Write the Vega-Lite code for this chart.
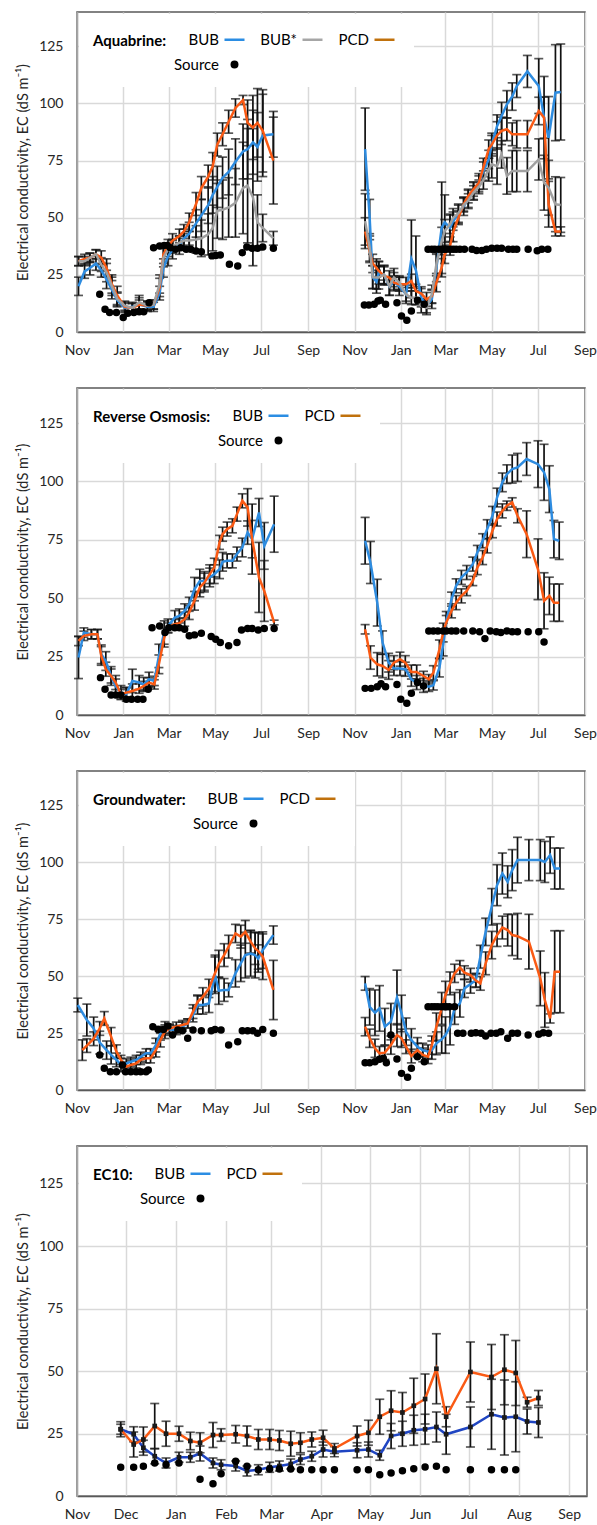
{
"$schema": "https://vega.github.io/schema/vega-lite/v6.json",
"padding": {"left": 14, "top": 11, "right": 5, "bottom": 0},
"spacing": 29,
"datasets": {
"A": [
{"g":1,"s":"BUB","d":"2015-11-03","v":20,"e":4},
{"g":1,"s":"BUB","d":"2015-11-11","v":26.5,"e":3},
{"g":1,"s":"BUB","d":"2015-11-18","v":28,"e":3},
{"g":1,"s":"BUB","d":"2015-11-26","v":30,"e":3},
{"g":1,"s":"BUB","d":"2015-12-03","v":27,"e":3},
{"g":1,"s":"BUB","d":"2015-12-10","v":23,"e":4},
{"g":1,"s":"BUB","d":"2015-12-17","v":18.5,"e":4},
{"g":1,"s":"BUB","d":"2015-12-24","v":14,"e":3},
{"g":1,"s":"BUB","d":"2016-01-03","v":10.5,"e":2},
{"g":1,"s":"BUB","d":"2016-01-13","v":11,"e":2},
{"g":1,"s":"BUB","d":"2016-01-22","v":12,"e":3},
{"g":1,"s":"BUB","d":"2016-02-02","v":11,"e":2},
{"g":1,"s":"BUB","d":"2016-02-10","v":11,"e":2},
{"g":1,"s":"BUB","d":"2016-02-18","v":17,"e":3},
{"g":1,"s":"BUB","d":"2016-02-23","v":28,"e":4},
{"g":1,"s":"BUB","d":"2016-02-29","v":33,"e":4},
{"g":1,"s":"BUB","d":"2016-03-06","v":36,"e":4},
{"g":1,"s":"BUB","d":"2016-03-15","v":38,"e":4},
{"g":1,"s":"BUB","d":"2016-03-21","v":41,"e":4},
{"g":1,"s":"BUB","d":"2016-03-28","v":43,"e":5},
{"g":1,"s":"BUB","d":"2016-04-06","v":47.5,"e":6},
{"g":1,"s":"BUB","d":"2016-04-13","v":51,"e":7},
{"g":1,"s":"BUB","d":"2016-04-22","v":55.5,"e":8},
{"g":1,"s":"BUB","d":"2016-04-28","v":60,"e":8},
{"g":1,"s":"BUB","d":"2016-05-04","v":63.5,"e":9},
{"g":1,"s":"BUB","d":"2016-05-11","v":67.5,"e":9},
{"g":1,"s":"BUB","d":"2016-05-19","v":70,"e":10},
{"g":1,"s":"BUB","d":"2016-05-28","v":74.5,"e":10},
{"g":1,"s":"BUB","d":"2016-06-07","v":79,"e":12},
{"g":1,"s":"BUB","d":"2016-06-13","v":80,"e":13},
{"g":1,"s":"BUB","d":"2016-06-20","v":83,"e":14},
{"g":1,"s":"BUB","d":"2016-06-26","v":81,"e":15},
{"g":1,"s":"BUB","d":"2016-07-03","v":86,"e":18},
{"g":1,"s":"BUB","d":"2016-07-17","v":86.5,"e":10},
{"g":1,"s":"PCD","d":"2015-11-03","v":31,"e":2},
{"g":1,"s":"PCD","d":"2015-11-11","v":32,"e":2},
{"g":1,"s":"PCD","d":"2015-11-18","v":32.5,"e":2},
{"g":1,"s":"PCD","d":"2015-11-26","v":34,"e":2},
{"g":1,"s":"PCD","d":"2015-12-03","v":32.5,"e":3},
{"g":1,"s":"PCD","d":"2015-12-10","v":28,"e":4},
{"g":1,"s":"PCD","d":"2015-12-17","v":21,"e":4},
{"g":1,"s":"PCD","d":"2015-12-24","v":16,"e":4},
{"g":1,"s":"PCD","d":"2016-01-03","v":11,"e":2},
{"g":1,"s":"PCD","d":"2016-01-13","v":10.5,"e":2},
{"g":1,"s":"PCD","d":"2016-01-22","v":12,"e":2},
{"g":1,"s":"PCD","d":"2016-02-02","v":11.5,"e":2},
{"g":1,"s":"PCD","d":"2016-02-10","v":12,"e":2},
{"g":1,"s":"PCD","d":"2016-02-18","v":19.5,"e":4},
{"g":1,"s":"PCD","d":"2016-02-23","v":34,"e":4},
{"g":1,"s":"PCD","d":"2016-02-29","v":37.5,"e":3},
{"g":1,"s":"PCD","d":"2016-03-06","v":40,"e":3},
{"g":1,"s":"PCD","d":"2016-03-15","v":42,"e":3},
{"g":1,"s":"PCD","d":"2016-03-21","v":44,"e":3},
{"g":1,"s":"PCD","d":"2016-03-28","v":48,"e":4},
{"g":1,"s":"PCD","d":"2016-04-06","v":56,"e":5},
{"g":1,"s":"PCD","d":"2016-04-13","v":63,"e":5},
{"g":1,"s":"PCD","d":"2016-04-22","v":68,"e":5},
{"g":1,"s":"PCD","d":"2016-04-28","v":72.5,"e":6},
{"g":1,"s":"PCD","d":"2016-05-04","v":82,"e":5},
{"g":1,"s":"PCD","d":"2016-05-11","v":86.5,"e":5},
{"g":1,"s":"PCD","d":"2016-05-19","v":92,"e":5},
{"g":1,"s":"PCD","d":"2016-05-28","v":98,"e":4},
{"g":1,"s":"PCD","d":"2016-06-07","v":101.5,"e":2},
{"g":1,"s":"PCD","d":"2016-06-13","v":91.5,"e":10},
{"g":1,"s":"PCD","d":"2016-06-20","v":89.5,"e":14},
{"g":1,"s":"PCD","d":"2016-06-26","v":91.5,"e":15},
{"g":1,"s":"PCD","d":"2016-07-03","v":88,"e":18},
{"g":1,"s":"PCD","d":"2016-07-17","v":75,"e":19},
{"g":1,"s":"BUB*","d":"2015-11-03","v":31,"e":2},
{"g":1,"s":"BUB*","d":"2015-11-11","v":31,"e":2},
{"g":1,"s":"BUB*","d":"2015-11-18","v":32.5,"e":2},
{"g":1,"s":"BUB*","d":"2015-11-26","v":34,"e":2},
{"g":1,"s":"BUB*","d":"2015-12-03","v":29.5,"e":3},
{"g":1,"s":"BUB*","d":"2015-12-10","v":26,"e":4},
{"g":1,"s":"BUB*","d":"2015-12-17","v":20,"e":4},
{"g":1,"s":"BUB*","d":"2015-12-24","v":14.5,"e":3},
{"g":1,"s":"BUB*","d":"2016-01-03","v":11.5,"e":2},
{"g":1,"s":"BUB*","d":"2016-01-13","v":10.5,"e":2},
{"g":1,"s":"BUB*","d":"2016-01-22","v":13,"e":3},
{"g":1,"s":"BUB*","d":"2016-02-02","v":11.5,"e":2},
{"g":1,"s":"BUB*","d":"2016-02-10","v":12,"e":2},
{"g":1,"s":"BUB*","d":"2016-02-18","v":21,"e":4},
{"g":1,"s":"BUB*","d":"2016-02-23","v":32.5,"e":4},
{"g":1,"s":"BUB*","d":"2016-02-29","v":36,"e":3},
{"g":1,"s":"BUB*","d":"2016-03-06","v":37.5,"e":3},
{"g":1,"s":"BUB*","d":"2016-03-15","v":39,"e":3},
{"g":1,"s":"BUB*","d":"2016-03-21","v":40,"e":3},
{"g":1,"s":"BUB*","d":"2016-03-28","v":40,"e":4},
{"g":1,"s":"BUB*","d":"2016-04-06","v":40.5,"e":6},
{"g":1,"s":"BUB*","d":"2016-04-13","v":41,"e":8},
{"g":1,"s":"BUB*","d":"2016-04-22","v":42.7,"e":9},
{"g":1,"s":"BUB*","d":"2016-04-28","v":45.5,"e":10},
{"g":1,"s":"BUB*","d":"2016-05-04","v":53,"e":12},
{"g":1,"s":"BUB*","d":"2016-05-11","v":53.5,"e":13},
{"g":1,"s":"BUB*","d":"2016-05-19","v":54.5,"e":13},
{"g":1,"s":"BUB*","d":"2016-05-28","v":56.5,"e":15},
{"g":1,"s":"BUB*","d":"2016-06-07","v":63,"e":20},
{"g":1,"s":"BUB*","d":"2016-06-13","v":64,"e":25},
{"g":1,"s":"BUB*","d":"2016-06-20","v":59,"e":30},
{"g":1,"s":"BUB*","d":"2016-06-26","v":48,"e":12},
{"g":1,"s":"BUB*","d":"2016-07-03","v":45.5,"e":6},
{"g":1,"s":"BUB*","d":"2016-07-17","v":41,"e":3},
{"g":2,"s":"BUB","d":"2016-11-15","v":80,"e":18},
{"g":2,"s":"BUB","d":"2016-11-21","v":50,"e":8},
{"g":2,"s":"BUB","d":"2016-11-25","v":24,"e":5},
{"g":2,"s":"BUB","d":"2016-11-30","v":22,"e":5},
{"g":2,"s":"BUB","d":"2016-12-03","v":26,"e":5},
{"g":2,"s":"BUB","d":"2016-12-10","v":25,"e":4},
{"g":2,"s":"BUB","d":"2016-12-17","v":20,"e":4},
{"g":2,"s":"BUB","d":"2016-12-23","v":22,"e":4},
{"g":2,"s":"BUB","d":"2016-12-30","v":20,"e":4},
{"g":2,"s":"BUB","d":"2017-01-08","v":16.5,"e":4},
{"g":2,"s":"BUB","d":"2017-01-15","v":32,"e":17},
{"g":2,"s":"BUB","d":"2017-01-21","v":27,"e":15},
{"g":2,"s":"BUB","d":"2017-01-28","v":15,"e":4},
{"g":2,"s":"BUB","d":"2017-02-04","v":11.4,"e":3},
{"g":2,"s":"BUB","d":"2017-02-11","v":14.3,"e":4},
{"g":2,"s":"BUB","d":"2017-02-17","v":28,"e":6},
{"g":2,"s":"BUB","d":"2017-02-24","v":45.6,"e":20},
{"g":2,"s":"BUB","d":"2017-02-28","v":48,"e":12},
{"g":2,"s":"BUB","d":"2017-03-07","v":45.6,"e":6},
{"g":2,"s":"BUB","d":"2017-03-11","v":48.5,"e":4},
{"g":2,"s":"BUB","d":"2017-03-18","v":51.5,"e":4},
{"g":2,"s":"BUB","d":"2017-03-25","v":55,"e":4},
{"g":2,"s":"BUB","d":"2017-03-31","v":58,"e":4},
{"g":2,"s":"BUB","d":"2017-04-07","v":61.7,"e":4},
{"g":2,"s":"BUB","d":"2017-04-14","v":65.3,"e":4},
{"g":2,"s":"BUB","d":"2017-04-20","v":70.4,"e":4},
{"g":2,"s":"BUB","d":"2017-04-27","v":75.5,"e":4},
{"g":2,"s":"BUB","d":"2017-05-01","v":82,"e":5},
{"g":2,"s":"BUB","d":"2017-05-08","v":90,"e":5},
{"g":2,"s":"BUB","d":"2017-05-14","v":94.5,"e":6},
{"g":2,"s":"BUB","d":"2017-05-21","v":99.6,"e":6},
{"g":2,"s":"BUB","d":"2017-05-28","v":103,"e":6},
{"g":2,"s":"BUB","d":"2017-06-03","v":107.6,"e":5},
{"g":2,"s":"BUB","d":"2017-06-17","v":114,"e":7},
{"g":2,"s":"BUB","d":"2017-07-02","v":107.6,"e":12},
{"g":2,"s":"BUB","d":"2017-07-09","v":93.8,"e":18},
{"g":2,"s":"BUB","d":"2017-07-15","v":85,"e":18},
{"g":2,"s":"BUB","d":"2017-07-24","v":104.7,"e":21},
{"g":2,"s":"BUB","d":"2017-07-31","v":105,"e":21},
{"g":2,"s":"PCD","d":"2016-11-15","v":44,"e":6},
{"g":2,"s":"PCD","d":"2016-11-21","v":35.4,"e":5},
{"g":2,"s":"PCD","d":"2016-11-25","v":30,"e":4},
{"g":2,"s":"PCD","d":"2016-11-30","v":28,"e":4},
{"g":2,"s":"PCD","d":"2016-12-03","v":26.7,"e":4},
{"g":2,"s":"PCD","d":"2016-12-10","v":24.5,"e":4},
{"g":2,"s":"PCD","d":"2016-12-17","v":23.8,"e":3},
{"g":2,"s":"PCD","d":"2016-12-23","v":21.6,"e":3},
{"g":2,"s":"PCD","d":"2016-12-30","v":20.9,"e":3},
{"g":2,"s":"PCD","d":"2017-01-08","v":20.9,"e":3},
{"g":2,"s":"PCD","d":"2017-01-15","v":22.3,"e":3},
{"g":2,"s":"PCD","d":"2017-01-21","v":17.9,"e":3},
{"g":2,"s":"PCD","d":"2017-01-28","v":16.8,"e":3},
{"g":2,"s":"PCD","d":"2017-02-04","v":14.3,"e":3},
{"g":2,"s":"PCD","d":"2017-02-11","v":15.7,"e":3},
{"g":2,"s":"PCD","d":"2017-02-17","v":21.6,"e":4},
{"g":2,"s":"PCD","d":"2017-02-24","v":28.1,"e":4},
{"g":2,"s":"PCD","d":"2017-02-28","v":34,"e":4},
{"g":2,"s":"PCD","d":"2017-03-07","v":37.6,"e":4},
{"g":2,"s":"PCD","d":"2017-03-11","v":43.5,"e":4},
{"g":2,"s":"PCD","d":"2017-03-18","v":50,"e":3},
{"g":2,"s":"PCD","d":"2017-03-25","v":55.9,"e":3},
{"g":2,"s":"PCD","d":"2017-03-31","v":59.5,"e":3},
{"g":2,"s":"PCD","d":"2017-04-07","v":62.4,"e":3},
{"g":2,"s":"PCD","d":"2017-04-14","v":65.3,"e":3},
{"g":2,"s":"PCD","d":"2017-04-20","v":72,"e":4},
{"g":2,"s":"PCD","d":"2017-04-27","v":80,"e":4},
{"g":2,"s":"PCD","d":"2017-05-01","v":82,"e":4},
{"g":2,"s":"PCD","d":"2017-05-08","v":86,"e":6},
{"g":2,"s":"PCD","d":"2017-05-14","v":88,"e":6},
{"g":2,"s":"PCD","d":"2017-05-21","v":88.7,"e":5},
{"g":2,"s":"PCD","d":"2017-05-28","v":86.5,"e":5},
{"g":2,"s":"PCD","d":"2017-06-03","v":86.5,"e":6},
{"g":2,"s":"PCD","d":"2017-06-17","v":86.5,"e":6},
{"g":2,"s":"PCD","d":"2017-07-02","v":96.7,"e":6},
{"g":2,"s":"PCD","d":"2017-07-09","v":93.8,"e":9},
{"g":2,"s":"PCD","d":"2017-07-15","v":55.9,"e":10},
{"g":2,"s":"PCD","d":"2017-07-24","v":44,"e":2},
{"g":2,"s":"PCD","d":"2017-07-31","v":44,"e":2},
{"g":2,"s":"BUB*","d":"2016-11-15","v":48.5,"e":12},
{"g":2,"s":"BUB*","d":"2016-11-21","v":37,"e":6},
{"g":2,"s":"BUB*","d":"2016-11-25","v":24,"e":5},
{"g":2,"s":"BUB*","d":"2016-11-30","v":23.8,"e":5},
{"g":2,"s":"BUB*","d":"2016-12-03","v":23.8,"e":5},
{"g":2,"s":"BUB*","d":"2016-12-10","v":25.2,"e":4},
{"g":2,"s":"BUB*","d":"2016-12-17","v":20.1,"e":4},
{"g":2,"s":"BUB*","d":"2016-12-23","v":23.8,"e":4},
{"g":2,"s":"BUB*","d":"2016-12-30","v":21.6,"e":3},
{"g":2,"s":"BUB*","d":"2017-01-08","v":16.5,"e":3},
{"g":2,"s":"BUB*","d":"2017-01-15","v":15,"e":3},
{"g":2,"s":"BUB*","d":"2017-01-21","v":15,"e":3},
{"g":2,"s":"BUB*","d":"2017-01-28","v":11.4,"e":3},
{"g":2,"s":"BUB*","d":"2017-02-04","v":10.6,"e":3},
{"g":2,"s":"BUB*","d":"2017-02-11","v":16.5,"e":4},
{"g":2,"s":"BUB*","d":"2017-02-17","v":29.6,"e":5},
{"g":2,"s":"BUB*","d":"2017-02-24","v":39.8,"e":6},
{"g":2,"s":"BUB*","d":"2017-02-28","v":44.2,"e":5},
{"g":2,"s":"BUB*","d":"2017-03-07","v":47.1,"e":4},
{"g":2,"s":"BUB*","d":"2017-03-11","v":50,"e":4},
{"g":2,"s":"BUB*","d":"2017-03-18","v":52,"e":4},
{"g":2,"s":"BUB*","d":"2017-03-25","v":55.5,"e":3},
{"g":2,"s":"BUB*","d":"2017-03-31","v":57.5,"e":3},
{"g":2,"s":"BUB*","d":"2017-04-07","v":61,"e":3},
{"g":2,"s":"BUB*","d":"2017-04-14","v":63.5,"e":3},
{"g":2,"s":"BUB*","d":"2017-04-20","v":66.5,"e":4},
{"g":2,"s":"BUB*","d":"2017-04-27","v":71,"e":5},
{"g":2,"s":"BUB*","d":"2017-05-01","v":73.4,"e":6},
{"g":2,"s":"BUB*","d":"2017-05-08","v":72.6,"e":8},
{"g":2,"s":"BUB*","d":"2017-05-14","v":77.7,"e":6},
{"g":2,"s":"BUB*","d":"2017-05-21","v":68.3,"e":8},
{"g":2,"s":"BUB*","d":"2017-05-28","v":70.4,"e":9},
{"g":2,"s":"BUB*","d":"2017-06-03","v":70.4,"e":9},
{"g":2,"s":"BUB*","d":"2017-06-17","v":70.4,"e":9},
{"g":2,"s":"BUB*","d":"2017-07-02","v":75.5,"e":9},
{"g":2,"s":"BUB*","d":"2017-07-09","v":65.3,"e":12},
{"g":2,"s":"BUB*","d":"2017-07-15","v":63.1,"e":12},
{"g":2,"s":"BUB*","d":"2017-07-24","v":55.9,"e":12},
{"g":2,"s":"BUB*","d":"2017-07-31","v":55.6,"e":12},
{"g":1,"s":"Source","d":"2015-12-01","v":16.5},
{"g":1,"s":"Source","d":"2015-12-08","v":10},
{"g":1,"s":"Source","d":"2015-12-14","v":8.5},
{"g":1,"s":"Source","d":"2015-12-23","v":8.5},
{"g":1,"s":"Source","d":"2016-01-01","v":6.3},
{"g":1,"s":"Source","d":"2016-01-07","v":8.2},
{"g":1,"s":"Source","d":"2016-01-15","v":8.5},
{"g":1,"s":"Source","d":"2016-01-22","v":8.9},
{"g":1,"s":"Source","d":"2016-01-28","v":8.9},
{"g":1,"s":"Source","d":"2016-02-04","v":12.8},
{"g":1,"s":"Source","d":"2016-02-10","v":36.9},
{"g":1,"s":"Source","d":"2016-02-18","v":37.6},
{"g":1,"s":"Source","d":"2016-02-24","v":37.9},
{"g":1,"s":"Source","d":"2016-02-28","v":37.9},
{"g":1,"s":"Source","d":"2016-03-03","v":36.9},
{"g":1,"s":"Source","d":"2016-03-10","v":36.2},
{"g":1,"s":"Source","d":"2016-03-17","v":36.9},
{"g":1,"s":"Source","d":"2016-03-24","v":36.2},
{"g":1,"s":"Source","d":"2016-03-30","v":36.2},
{"g":1,"s":"Source","d":"2016-04-06","v":35.4},
{"g":1,"s":"Source","d":"2016-04-13","v":35.1},
{"g":1,"s":"Source","d":"2016-04-27","v":33.3},
{"g":1,"s":"Source","d":"2016-05-02","v":33.5},
{"g":1,"s":"Source","d":"2016-05-08","v":33.7},
{"g":1,"s":"Source","d":"2016-05-20","v":29.6},
{"g":1,"s":"Source","d":"2016-05-31","v":28.9},
{"g":1,"s":"Source","d":"2016-06-06","v":34.7},
{"g":1,"s":"Source","d":"2016-06-12","v":37.2},
{"g":1,"s":"Source","d":"2016-06-19","v":36.6},
{"g":1,"s":"Source","d":"2016-06-26","v":36.6},
{"g":1,"s":"Source","d":"2016-07-03","v":37.2},
{"g":1,"s":"Source","d":"2016-07-17","v":36.6},
{"g":2,"s":"Source","d":"2016-11-14","v":11.8},
{"g":2,"s":"Source","d":"2016-11-20","v":11.8},
{"g":2,"s":"Source","d":"2016-11-27","v":12.1},
{"g":2,"s":"Source","d":"2016-12-02","v":13.6},
{"g":2,"s":"Source","d":"2016-12-05","v":13.9},
{"g":2,"s":"Source","d":"2016-12-12","v":12.1},
{"g":2,"s":"Source","d":"2016-12-27","v":12.8},
{"g":2,"s":"Source","d":"2017-01-02","v":7},
{"g":2,"s":"Source","d":"2017-01-09","v":5.1},
{"g":2,"s":"Source","d":"2017-01-15","v":9.2},
{"g":2,"s":"Source","d":"2017-01-23","v":13.9},
{"g":2,"s":"Source","d":"2017-02-01","v":12.1},
{"g":2,"s":"Source","d":"2017-02-06","v":36.2},
{"g":2,"s":"Source","d":"2017-02-11","v":36.2},
{"g":2,"s":"Source","d":"2017-02-15","v":36.2},
{"g":2,"s":"Source","d":"2017-02-20","v":36.2},
{"g":2,"s":"Source","d":"2017-02-24","v":36.2},
{"g":2,"s":"Source","d":"2017-02-27","v":36.2},
{"g":2,"s":"Source","d":"2017-03-02","v":36.2},
{"g":2,"s":"Source","d":"2017-03-07","v":36.2},
{"g":2,"s":"Source","d":"2017-03-11","v":36.2},
{"g":2,"s":"Source","d":"2017-03-15","v":36.2},
{"g":2,"s":"Source","d":"2017-03-20","v":36.2},
{"g":2,"s":"Source","d":"2017-03-26","v":36.2},
{"g":2,"s":"Source","d":"2017-04-05","v":36.2},
{"g":2,"s":"Source","d":"2017-04-11","v":35.7},
{"g":2,"s":"Source","d":"2017-04-18","v":35.7},
{"g":2,"s":"Source","d":"2017-04-24","v":36.2},
{"g":2,"s":"Source","d":"2017-05-01","v":36.6},
{"g":2,"s":"Source","d":"2017-05-08","v":36.6},
{"g":2,"s":"Source","d":"2017-05-14","v":36.6},
{"g":2,"s":"Source","d":"2017-05-23","v":36.2},
{"g":2,"s":"Source","d":"2017-05-29","v":36.2},
{"g":2,"s":"Source","d":"2017-06-03","v":36.2},
{"g":2,"s":"Source","d":"2017-06-18","v":36.2},
{"g":2,"s":"Source","d":"2017-06-30","v":35.5},
{"g":2,"s":"Source","d":"2017-07-06","v":36.2},
{"g":2,"s":"Source","d":"2017-07-14","v":36.2}
],
"R": [
{"g":1,"s":"BUB","d":"2015-11-03","v":24.6,"e":9},
{"g":1,"s":"BUB","d":"2015-11-10","v":35.3,"e":2},
{"g":1,"s":"BUB","d":"2015-11-20","v":34.6,"e":2},
{"g":1,"s":"BUB","d":"2015-11-28","v":34.6,"e":2},
{"g":1,"s":"BUB","d":"2015-12-03","v":26,"e":4},
{"g":1,"s":"BUB","d":"2015-12-09","v":23.1,"e":4},
{"g":1,"s":"BUB","d":"2015-12-16","v":16.7,"e":4},
{"g":1,"s":"BUB","d":"2015-12-22","v":12.4,"e":3},
{"g":1,"s":"BUB","d":"2015-12-29","v":9.6,"e":3},
{"g":1,"s":"BUB","d":"2016-01-05","v":8.9,"e":3},
{"g":1,"s":"BUB","d":"2016-01-13","v":14.6,"e":5},
{"g":1,"s":"BUB","d":"2016-01-22","v":13.9,"e":3},
{"g":1,"s":"BUB","d":"2016-01-28","v":13.1,"e":3},
{"g":1,"s":"BUB","d":"2016-02-04","v":15.3,"e":3},
{"g":1,"s":"BUB","d":"2016-02-11","v":14.6,"e":2},
{"g":1,"s":"BUB","d":"2016-02-17","v":25.3,"e":5},
{"g":1,"s":"BUB","d":"2016-02-24","v":35.3,"e":5},
{"g":1,"s":"BUB","d":"2016-02-29","v":38.1,"e":3},
{"g":1,"s":"BUB","d":"2016-03-09","v":41.7,"e":3},
{"g":1,"s":"BUB","d":"2016-03-15","v":42.4,"e":3},
{"g":1,"s":"BUB","d":"2016-03-22","v":44.6,"e":3},
{"g":1,"s":"BUB","d":"2016-03-28","v":47.4,"e":3},
{"g":1,"s":"BUB","d":"2016-04-04","v":53.9,"e":5},
{"g":1,"s":"BUB","d":"2016-04-11","v":57.4,"e":5},
{"g":1,"s":"BUB","d":"2016-04-17","v":57.4,"e":4},
{"g":1,"s":"BUB","d":"2016-04-24","v":58.9,"e":4},
{"g":1,"s":"BUB","d":"2016-04-30","v":60.3,"e":4},
{"g":1,"s":"BUB","d":"2016-05-07","v":62.4,"e":4},
{"g":1,"s":"BUB","d":"2016-05-11","v":65.6,"e":4},
{"g":1,"s":"BUB","d":"2016-05-17","v":66,"e":3},
{"g":1,"s":"BUB","d":"2016-05-24","v":66,"e":3},
{"g":1,"s":"BUB","d":"2016-05-30","v":68.9,"e":3},
{"g":1,"s":"BUB","d":"2016-06-06","v":71.7,"e":4},
{"g":1,"s":"BUB","d":"2016-06-13","v":78.1,"e":5},
{"g":1,"s":"BUB","d":"2016-06-19","v":75.3,"e":8},
{"g":1,"s":"BUB","d":"2016-06-28","v":86.7,"e":6},
{"g":1,"s":"BUB","d":"2016-07-05","v":72.4,"e":10},
{"g":1,"s":"BUB","d":"2016-07-18","v":81.7,"e":12},
{"g":1,"s":"PCD","d":"2015-11-03","v":31.7,"e":2},
{"g":1,"s":"PCD","d":"2015-11-10","v":33.9,"e":2},
{"g":1,"s":"PCD","d":"2015-11-20","v":34.6,"e":2},
{"g":1,"s":"PCD","d":"2015-11-28","v":34.6,"e":2},
{"g":1,"s":"PCD","d":"2015-12-03","v":25.3,"e":4},
{"g":1,"s":"PCD","d":"2015-12-09","v":19.6,"e":3},
{"g":1,"s":"PCD","d":"2015-12-16","v":16.7,"e":3},
{"g":1,"s":"PCD","d":"2015-12-22","v":13.9,"e":3},
{"g":1,"s":"PCD","d":"2015-12-29","v":8.9,"e":2},
{"g":1,"s":"PCD","d":"2016-01-05","v":9.6,"e":2},
{"g":1,"s":"PCD","d":"2016-01-13","v":10.3,"e":3},
{"g":1,"s":"PCD","d":"2016-01-22","v":11.3,"e":2},
{"g":1,"s":"PCD","d":"2016-01-28","v":12.4,"e":2},
{"g":1,"s":"PCD","d":"2016-02-04","v":13.9,"e":2},
{"g":1,"s":"PCD","d":"2016-02-11","v":13.1,"e":2},
{"g":1,"s":"PCD","d":"2016-02-17","v":21.7,"e":4},
{"g":1,"s":"PCD","d":"2016-02-24","v":33.1,"e":4},
{"g":1,"s":"PCD","d":"2016-02-29","v":37.4,"e":2},
{"g":1,"s":"PCD","d":"2016-03-09","v":38.9,"e":2},
{"g":1,"s":"PCD","d":"2016-03-15","v":39.3,"e":2},
{"g":1,"s":"PCD","d":"2016-03-22","v":41,"e":3},
{"g":1,"s":"PCD","d":"2016-03-28","v":43.9,"e":3},
{"g":1,"s":"PCD","d":"2016-04-04","v":48.9,"e":4},
{"g":1,"s":"PCD","d":"2016-04-11","v":54.6,"e":4},
{"g":1,"s":"PCD","d":"2016-04-17","v":56.7,"e":4},
{"g":1,"s":"PCD","d":"2016-04-24","v":60.3,"e":4},
{"g":1,"s":"PCD","d":"2016-04-30","v":63.1,"e":4},
{"g":1,"s":"PCD","d":"2016-05-07","v":73.9,"e":3},
{"g":1,"s":"PCD","d":"2016-05-11","v":77.4,"e":3},
{"g":1,"s":"PCD","d":"2016-05-17","v":79.6,"e":3},
{"g":1,"s":"PCD","d":"2016-05-24","v":81,"e":3},
{"g":1,"s":"PCD","d":"2016-05-30","v":86,"e":3},
{"g":1,"s":"PCD","d":"2016-06-06","v":91.7,"e":3},
{"g":1,"s":"PCD","d":"2016-06-13","v":88.9,"e":8},
{"g":1,"s":"PCD","d":"2016-06-19","v":75.3,"e":15},
{"g":1,"s":"PCD","d":"2016-06-28","v":58.9,"e":15},
{"g":1,"s":"PCD","d":"2016-07-05","v":53.1,"e":13},
{"g":1,"s":"PCD","d":"2016-07-18","v":39.6,"e":1},
{"g":2,"s":"BUB","d":"2016-11-15","v":74.6,"e":10},
{"g":2,"s":"BUB","d":"2016-11-22","v":65.3,"e":9},
{"g":2,"s":"BUB","d":"2016-12-01","v":48.1,"e":10},
{"g":2,"s":"BUB","d":"2016-12-08","v":31,"e":5},
{"g":2,"s":"BUB","d":"2016-12-16","v":22.4,"e":4},
{"g":2,"s":"BUB","d":"2016-12-23","v":19.9,"e":3},
{"g":2,"s":"BUB","d":"2016-12-31","v":19.9,"e":3},
{"g":2,"s":"BUB","d":"2017-01-07","v":19.6,"e":3},
{"g":2,"s":"BUB","d":"2017-01-15","v":15.3,"e":3},
{"g":2,"s":"BUB","d":"2017-01-22","v":13.9,"e":3},
{"g":2,"s":"BUB","d":"2017-01-31","v":12.7,"e":3},
{"g":2,"s":"BUB","d":"2017-02-07","v":12.1,"e":2},
{"g":2,"s":"BUB","d":"2017-02-13","v":12.7,"e":2},
{"g":2,"s":"BUB","d":"2017-02-21","v":20.3,"e":4},
{"g":2,"s":"BUB","d":"2017-02-26","v":30.3,"e":5},
{"g":2,"s":"BUB","d":"2017-03-02","v":40.3,"e":4},
{"g":2,"s":"BUB","d":"2017-03-09","v":49.6,"e":3},
{"g":2,"s":"BUB","d":"2017-03-15","v":55.3,"e":3},
{"g":2,"s":"BUB","d":"2017-03-22","v":58.9,"e":3},
{"g":2,"s":"BUB","d":"2017-03-29","v":61,"e":3},
{"g":2,"s":"BUB","d":"2017-04-06","v":64.6,"e":3},
{"g":2,"s":"BUB","d":"2017-04-12","v":69.6,"e":3},
{"g":2,"s":"BUB","d":"2017-04-19","v":74.6,"e":3},
{"g":2,"s":"BUB","d":"2017-04-25","v":79.6,"e":4},
{"g":2,"s":"BUB","d":"2017-05-02","v":85.3,"e":4},
{"g":2,"s":"BUB","d":"2017-05-08","v":93.1,"e":4},
{"g":2,"s":"BUB","d":"2017-05-15","v":99.6,"e":4},
{"g":2,"s":"BUB","d":"2017-05-21","v":103.1,"e":4},
{"g":2,"s":"BUB","d":"2017-05-28","v":105.3,"e":6},
{"g":2,"s":"BUB","d":"2017-06-04","v":106,"e":6},
{"g":2,"s":"BUB","d":"2017-06-16","v":109.6,"e":7},
{"g":2,"s":"BUB","d":"2017-07-01","v":107.4,"e":10},
{"g":2,"s":"BUB","d":"2017-07-09","v":103.9,"e":12},
{"g":2,"s":"BUB","d":"2017-07-16","v":96.7,"e":10},
{"g":2,"s":"BUB","d":"2017-07-22","v":75.3,"e":8},
{"g":2,"s":"BUB","d":"2017-07-29","v":74.6,"e":8},
{"g":2,"s":"PCD","d":"2016-11-15","v":36.7,"e":2},
{"g":2,"s":"PCD","d":"2016-11-22","v":24.6,"e":5},
{"g":2,"s":"PCD","d":"2016-12-01","v":21.7,"e":5},
{"g":2,"s":"PCD","d":"2016-12-08","v":21,"e":5},
{"g":2,"s":"PCD","d":"2016-12-16","v":19.3,"e":4},
{"g":2,"s":"PCD","d":"2016-12-23","v":22.4,"e":3},
{"g":2,"s":"PCD","d":"2016-12-31","v":23.9,"e":3},
{"g":2,"s":"PCD","d":"2017-01-07","v":22.4,"e":3},
{"g":2,"s":"PCD","d":"2017-01-15","v":18.4,"e":3},
{"g":2,"s":"PCD","d":"2017-01-22","v":18.4,"e":3},
{"g":2,"s":"PCD","d":"2017-01-31","v":16.7,"e":2},
{"g":2,"s":"PCD","d":"2017-02-07","v":15.3,"e":2},
{"g":2,"s":"PCD","d":"2017-02-13","v":18.1,"e":3},
{"g":2,"s":"PCD","d":"2017-02-21","v":28.1,"e":4},
{"g":2,"s":"PCD","d":"2017-02-26","v":35.3,"e":4},
{"g":2,"s":"PCD","d":"2017-03-02","v":39.6,"e":3},
{"g":2,"s":"PCD","d":"2017-03-09","v":44.6,"e":3},
{"g":2,"s":"PCD","d":"2017-03-15","v":48.1,"e":3},
{"g":2,"s":"PCD","d":"2017-03-22","v":51,"e":3},
{"g":2,"s":"PCD","d":"2017-03-29","v":53.1,"e":2},
{"g":2,"s":"PCD","d":"2017-04-06","v":57.4,"e":2},
{"g":2,"s":"PCD","d":"2017-04-12","v":63.1,"e":3},
{"g":2,"s":"PCD","d":"2017-04-19","v":67.4,"e":3},
{"g":2,"s":"PCD","d":"2017-04-25","v":72.4,"e":3},
{"g":2,"s":"PCD","d":"2017-05-02","v":78.9,"e":3},
{"g":2,"s":"PCD","d":"2017-05-08","v":83.9,"e":3},
{"g":2,"s":"PCD","d":"2017-05-15","v":87.4,"e":3},
{"g":2,"s":"PCD","d":"2017-05-21","v":89.6,"e":2},
{"g":2,"s":"PCD","d":"2017-05-28","v":91,"e":2},
{"g":2,"s":"PCD","d":"2017-06-04","v":85.3,"e":3},
{"g":2,"s":"PCD","d":"2017-06-16","v":77.4,"e":10},
{"g":2,"s":"PCD","d":"2017-07-01","v":62.4,"e":13},
{"g":2,"s":"PCD","d":"2017-07-09","v":48.9,"e":12},
{"g":2,"s":"PCD","d":"2017-07-16","v":51,"e":8},
{"g":2,"s":"PCD","d":"2017-07-22","v":48.1,"e":8},
{"g":2,"s":"PCD","d":"2017-07-29","v":48.1,"e":8},
{"g":1,"s":"Source","d":"2015-12-02","v":16},
{"g":1,"s":"Source","d":"2015-12-08","v":11},
{"g":1,"s":"Source","d":"2015-12-16","v":8.6},
{"g":1,"s":"Source","d":"2015-12-22","v":8.6},
{"g":1,"s":"Source","d":"2015-12-29","v":8.6},
{"g":1,"s":"Source","d":"2016-01-05","v":6.7},
{"g":1,"s":"Source","d":"2016-01-12","v":6.7},
{"g":1,"s":"Source","d":"2016-01-20","v":6.7},
{"g":1,"s":"Source","d":"2016-01-27","v":6.7},
{"g":1,"s":"Source","d":"2016-02-03","v":11},
{"g":1,"s":"Source","d":"2016-02-08","v":37.4},
{"g":1,"s":"Source","d":"2016-02-18","v":38.1},
{"g":1,"s":"Source","d":"2016-02-25","v":35.3},
{"g":1,"s":"Source","d":"2016-03-01","v":37.4},
{"g":1,"s":"Source","d":"2016-03-09","v":37.4},
{"g":1,"s":"Source","d":"2016-03-15","v":37.4},
{"g":1,"s":"Source","d":"2016-03-22","v":36.7},
{"g":1,"s":"Source","d":"2016-03-28","v":33.9},
{"g":1,"s":"Source","d":"2016-04-04","v":34.3},
{"g":1,"s":"Source","d":"2016-04-13","v":35},
{"g":1,"s":"Source","d":"2016-04-26","v":33.6},
{"g":1,"s":"Source","d":"2016-05-02","v":32.4},
{"g":1,"s":"Source","d":"2016-05-08","v":31},
{"g":1,"s":"Source","d":"2016-05-19","v":29.6},
{"g":1,"s":"Source","d":"2016-05-30","v":31},
{"g":1,"s":"Source","d":"2016-06-05","v":36.4},
{"g":1,"s":"Source","d":"2016-06-13","v":37},
{"g":1,"s":"Source","d":"2016-06-19","v":37},
{"g":1,"s":"Source","d":"2016-06-27","v":36.4},
{"g":1,"s":"Source","d":"2016-07-05","v":37},
{"g":1,"s":"Source","d":"2016-07-18","v":37},
{"g":2,"s":"Source","d":"2016-11-15","v":11.4},
{"g":2,"s":"Source","d":"2016-11-23","v":11.4},
{"g":2,"s":"Source","d":"2016-12-01","v":12.1},
{"g":2,"s":"Source","d":"2016-12-06","v":13.4},
{"g":2,"s":"Source","d":"2016-12-12","v":12.1},
{"g":2,"s":"Source","d":"2016-12-27","v":13.1},
{"g":2,"s":"Source","d":"2017-01-01","v":6.7},
{"g":2,"s":"Source","d":"2017-01-09","v":5},
{"g":2,"s":"Source","d":"2017-01-15","v":9.3},
{"g":2,"s":"Source","d":"2017-01-23","v":13.9},
{"g":2,"s":"Source","d":"2017-01-31","v":12.4},
{"g":2,"s":"Source","d":"2017-02-07","v":36},
{"g":2,"s":"Source","d":"2017-02-13","v":36},
{"g":2,"s":"Source","d":"2017-02-19","v":36},
{"g":2,"s":"Source","d":"2017-02-26","v":36},
{"g":2,"s":"Source","d":"2017-03-02","v":36},
{"g":2,"s":"Source","d":"2017-03-09","v":36},
{"g":2,"s":"Source","d":"2017-03-15","v":36},
{"g":2,"s":"Source","d":"2017-03-25","v":36},
{"g":2,"s":"Source","d":"2017-04-06","v":36},
{"g":2,"s":"Source","d":"2017-04-15","v":35.6},
{"g":2,"s":"Source","d":"2017-04-22","v":32.7},
{"g":2,"s":"Source","d":"2017-04-29","v":36},
{"g":2,"s":"Source","d":"2017-05-07","v":35.6},
{"g":2,"s":"Source","d":"2017-05-13","v":35.3},
{"g":2,"s":"Source","d":"2017-05-21","v":36},
{"g":2,"s":"Source","d":"2017-05-28","v":35.6},
{"g":2,"s":"Source","d":"2017-06-04","v":35.6},
{"g":2,"s":"Source","d":"2017-06-18","v":35.6},
{"g":2,"s":"Source","d":"2017-07-02","v":35.6},
{"g":2,"s":"Source","d":"2017-07-09","v":31.3}
],
"G": [
{"g":1,"s":"BUB","d":"2015-11-02","v":37.3,"e":3},
{"g":1,"s":"BUB","d":"2015-11-14","v":30.7,"e":7},
{"g":1,"s":"BUB","d":"2015-11-23","v":27,"e":5},
{"g":1,"s":"BUB","d":"2015-12-01","v":20.8,"e":5},
{"g":1,"s":"BUB","d":"2015-12-10","v":17.5,"e":4},
{"g":1,"s":"BUB","d":"2015-12-16","v":15.4,"e":4},
{"g":1,"s":"BUB","d":"2015-12-23","v":13.2,"e":3},
{"g":1,"s":"BUB","d":"2015-12-29","v":11,"e":3},
{"g":1,"s":"BUB","d":"2016-01-05","v":11.7,"e":2},
{"g":1,"s":"BUB","d":"2016-01-11","v":12.4,"e":2},
{"g":1,"s":"BUB","d":"2016-01-18","v":13.2,"e":2},
{"g":1,"s":"BUB","d":"2016-01-24","v":14.6,"e":2},
{"g":1,"s":"BUB","d":"2016-01-31","v":16.1,"e":2},
{"g":1,"s":"BUB","d":"2016-02-06","v":16.1,"e":2},
{"g":1,"s":"BUB","d":"2016-02-13","v":19.7,"e":3},
{"g":1,"s":"BUB","d":"2016-02-19","v":24.9,"e":3},
{"g":1,"s":"BUB","d":"2016-02-25","v":27,"e":3},
{"g":1,"s":"BUB","d":"2016-03-02","v":26.6,"e":2},
{"g":1,"s":"BUB","d":"2016-03-11","v":26.3,"e":2},
{"g":1,"s":"BUB","d":"2016-03-19","v":27.8,"e":2},
{"g":1,"s":"BUB","d":"2016-03-26","v":29.2,"e":2},
{"g":1,"s":"BUB","d":"2016-04-02","v":32.9,"e":3},
{"g":1,"s":"BUB","d":"2016-04-08","v":37.3,"e":4},
{"g":1,"s":"BUB","d":"2016-04-15","v":37.3,"e":4},
{"g":1,"s":"BUB","d":"2016-04-23","v":38,"e":4},
{"g":1,"s":"BUB","d":"2016-05-01","v":50.4,"e":8},
{"g":1,"s":"BUB","d":"2016-05-06","v":43.6,"e":6},
{"g":1,"s":"BUB","d":"2016-05-13","v":43.9,"e":5},
{"g":1,"s":"BUB","d":"2016-05-19","v":43.9,"e":3},
{"g":1,"s":"BUB","d":"2016-05-28","v":51.2,"e":6},
{"g":1,"s":"BUB","d":"2016-06-04","v":55.6,"e":8},
{"g":1,"s":"BUB","d":"2016-06-10","v":59.2,"e":10},
{"g":1,"s":"BUB","d":"2016-06-17","v":59.9,"e":10},
{"g":1,"s":"BUB","d":"2016-06-23","v":59.2,"e":10},
{"g":1,"s":"BUB","d":"2016-06-27","v":57.7,"e":6},
{"g":1,"s":"BUB","d":"2016-07-03","v":61.4,"e":8},
{"g":1,"s":"BUB","d":"2016-07-17","v":68,"e":4},
{"g":1,"s":"PCD","d":"2015-11-08","v":17.5,"e":4.5},
{"g":1,"s":"PCD","d":"2015-11-14","v":19.5,"e":3},
{"g":1,"s":"PCD","d":"2015-11-23","v":22.5,"e":3},
{"g":1,"s":"PCD","d":"2015-12-01","v":27,"e":3},
{"g":1,"s":"PCD","d":"2015-12-07","v":31.4,"e":3},
{"g":1,"s":"PCD","d":"2015-12-16","v":23.4,"e":4},
{"g":1,"s":"PCD","d":"2015-12-23","v":16.8,"e":3},
{"g":1,"s":"PCD","d":"2015-12-29","v":13.2,"e":2},
{"g":1,"s":"PCD","d":"2016-01-05","v":10.2,"e":2},
{"g":1,"s":"PCD","d":"2016-01-11","v":11,"e":2},
{"g":1,"s":"PCD","d":"2016-01-18","v":11.7,"e":2},
{"g":1,"s":"PCD","d":"2016-01-24","v":13.2,"e":2},
{"g":1,"s":"PCD","d":"2016-01-31","v":13.9,"e":2},
{"g":1,"s":"PCD","d":"2016-02-06","v":13.9,"e":2},
{"g":1,"s":"PCD","d":"2016-02-13","v":17.5,"e":3},
{"g":1,"s":"PCD","d":"2016-02-19","v":21.9,"e":3},
{"g":1,"s":"PCD","d":"2016-02-25","v":25.6,"e":3},
{"g":1,"s":"PCD","d":"2016-03-02","v":27,"e":2},
{"g":1,"s":"PCD","d":"2016-03-11","v":27.8,"e":2},
{"g":1,"s":"PCD","d":"2016-03-19","v":28.5,"e":2},
{"g":1,"s":"PCD","d":"2016-03-26","v":29.2,"e":2},
{"g":1,"s":"PCD","d":"2016-04-02","v":34.4,"e":3},
{"g":1,"s":"PCD","d":"2016-04-08","v":38.7,"e":3},
{"g":1,"s":"PCD","d":"2016-04-15","v":40.9,"e":4},
{"g":1,"s":"PCD","d":"2016-04-23","v":44.6,"e":4},
{"g":1,"s":"PCD","d":"2016-05-01","v":51.2,"e":8},
{"g":1,"s":"PCD","d":"2016-05-06","v":55.3,"e":6},
{"g":1,"s":"PCD","d":"2016-05-13","v":59.2,"e":5},
{"g":1,"s":"PCD","d":"2016-05-19","v":62.9,"e":5},
{"g":1,"s":"PCD","d":"2016-05-28","v":68.7,"e":4},
{"g":1,"s":"PCD","d":"2016-06-04","v":67.3,"e":5},
{"g":1,"s":"PCD","d":"2016-06-10","v":69.4,"e":5},
{"g":1,"s":"PCD","d":"2016-06-17","v":65.1,"e":5},
{"g":1,"s":"PCD","d":"2016-06-23","v":62.1,"e":7},
{"g":1,"s":"PCD","d":"2016-06-27","v":61,"e":8},
{"g":1,"s":"PCD","d":"2016-07-03","v":58.5,"e":10},
{"g":1,"s":"PCD","d":"2016-07-17","v":43.9,"e":13},
{"g":2,"s":"BUB","d":"2016-11-15","v":46.8,"e":3},
{"g":2,"s":"BUB","d":"2016-11-21","v":36.5,"e":8},
{"g":2,"s":"BUB","d":"2016-11-28","v":33.9,"e":10},
{"g":2,"s":"BUB","d":"2016-12-04","v":35.8,"e":10},
{"g":2,"s":"BUB","d":"2016-12-11","v":27.8,"e":8},
{"g":2,"s":"BUB","d":"2016-12-19","v":30,"e":8},
{"g":2,"s":"BUB","d":"2016-12-27","v":40.6,"e":12},
{"g":2,"s":"BUB","d":"2017-01-02","v":33.6,"e":8},
{"g":2,"s":"BUB","d":"2017-01-08","v":25.6,"e":6},
{"g":2,"s":"BUB","d":"2017-01-15","v":21.9,"e":5},
{"g":2,"s":"BUB","d":"2017-01-23","v":19,"e":4},
{"g":2,"s":"BUB","d":"2017-01-30","v":17.5,"e":3},
{"g":2,"s":"BUB","d":"2017-02-06","v":16.8,"e":3},
{"g":2,"s":"BUB","d":"2017-02-11","v":17.5,"e":4},
{"g":2,"s":"BUB","d":"2017-02-17","v":20.5,"e":5},
{"g":2,"s":"BUB","d":"2017-02-24","v":22.2,"e":6},
{"g":2,"s":"BUB","d":"2017-03-01","v":24.1,"e":8},
{"g":2,"s":"BUB","d":"2017-03-07","v":27.8,"e":8},
{"g":2,"s":"BUB","d":"2017-03-13","v":35.8,"e":7},
{"g":2,"s":"BUB","d":"2017-03-20","v":38,"e":6},
{"g":2,"s":"BUB","d":"2017-03-26","v":44.6,"e":4},
{"g":2,"s":"BUB","d":"2017-04-03","v":46.5,"e":4},
{"g":2,"s":"BUB","d":"2017-04-10","v":48.2,"e":3},
{"g":2,"s":"BUB","d":"2017-04-16","v":58.5,"e":5},
{"g":2,"s":"BUB","d":"2017-04-23","v":69.4,"e":6},
{"g":2,"s":"BUB","d":"2017-05-01","v":80.4,"e":8},
{"g":2,"s":"BUB","d":"2017-05-08","v":89.9,"e":9},
{"g":2,"s":"BUB","d":"2017-05-15","v":95,"e":9},
{"g":2,"s":"BUB","d":"2017-05-22","v":91.4,"e":7},
{"g":2,"s":"BUB","d":"2017-05-28","v":96.5,"e":9},
{"g":2,"s":"BUB","d":"2017-06-04","v":100.9,"e":10},
{"g":2,"s":"BUB","d":"2017-06-19","v":100.9,"e":9},
{"g":2,"s":"BUB","d":"2017-07-04","v":100.9,"e":9},
{"g":2,"s":"BUB","d":"2017-07-10","v":100.1,"e":9},
{"g":2,"s":"BUB","d":"2017-07-17","v":103.1,"e":8},
{"g":2,"s":"BUB","d":"2017-07-23","v":97.2,"e":9},
{"g":2,"s":"BUB","d":"2017-07-30","v":97.2,"e":9},
{"g":2,"s":"PCD","d":"2016-11-15","v":27.8,"e":4},
{"g":2,"s":"PCD","d":"2016-11-21","v":22.7,"e":4},
{"g":2,"s":"PCD","d":"2016-11-28","v":18.3,"e":4},
{"g":2,"s":"PCD","d":"2016-12-04","v":16.1,"e":3},
{"g":2,"s":"PCD","d":"2016-12-11","v":16.4,"e":3},
{"g":2,"s":"PCD","d":"2016-12-19","v":19.7,"e":4},
{"g":2,"s":"PCD","d":"2016-12-27","v":24.1,"e":5},
{"g":2,"s":"PCD","d":"2017-01-02","v":22.7,"e":4},
{"g":2,"s":"PCD","d":"2017-01-08","v":19,"e":3},
{"g":2,"s":"PCD","d":"2017-01-15","v":14.9,"e":3},
{"g":2,"s":"PCD","d":"2017-01-23","v":17.5,"e":3},
{"g":2,"s":"PCD","d":"2017-01-30","v":15.4,"e":3},
{"g":2,"s":"PCD","d":"2017-02-06","v":14.6,"e":3},
{"g":2,"s":"PCD","d":"2017-02-11","v":19.7,"e":4},
{"g":2,"s":"PCD","d":"2017-02-17","v":27.8,"e":6},
{"g":2,"s":"PCD","d":"2017-02-24","v":35.8,"e":7},
{"g":2,"s":"PCD","d":"2017-03-01","v":41.7,"e":6},
{"g":2,"s":"PCD","d":"2017-03-07","v":46.8,"e":5},
{"g":2,"s":"PCD","d":"2017-03-13","v":51.2,"e":4},
{"g":2,"s":"PCD","d":"2017-03-20","v":53.8,"e":3},
{"g":2,"s":"PCD","d":"2017-03-26","v":51.5,"e":3},
{"g":2,"s":"PCD","d":"2017-04-03","v":50.4,"e":3},
{"g":2,"s":"PCD","d":"2017-04-10","v":48,"e":3},
{"g":2,"s":"PCD","d":"2017-04-16","v":46.8,"e":3},
{"g":2,"s":"PCD","d":"2017-04-23","v":55.6,"e":5},
{"g":2,"s":"PCD","d":"2017-05-01","v":63.6,"e":6},
{"g":2,"s":"PCD","d":"2017-05-08","v":68,"e":5},
{"g":2,"s":"PCD","d":"2017-05-15","v":71.3,"e":5},
{"g":2,"s":"PCD","d":"2017-05-22","v":70.2,"e":7},
{"g":2,"s":"PCD","d":"2017-05-28","v":68,"e":9},
{"g":2,"s":"PCD","d":"2017-06-04","v":67.5,"e":10},
{"g":2,"s":"PCD","d":"2017-06-19","v":65.1,"e":12},
{"g":2,"s":"PCD","d":"2017-07-04","v":49,"e":12},
{"g":2,"s":"PCD","d":"2017-07-10","v":39.5,"e":12},
{"g":2,"s":"PCD","d":"2017-07-17","v":31.4,"e":2},
{"g":2,"s":"PCD","d":"2017-07-23","v":51.9,"e":18},
{"g":2,"s":"PCD","d":"2017-07-30","v":51.9,"e":18},
{"g":1,"s":"Source","d":"2015-12-01","v":15.4},
{"g":1,"s":"Source","d":"2015-12-07","v":9.5},
{"g":1,"s":"Source","d":"2015-12-15","v":8},
{"g":1,"s":"Source","d":"2015-12-23","v":8},
{"g":1,"s":"Source","d":"2015-12-31","v":11},
{"g":1,"s":"Source","d":"2016-01-04","v":8},
{"g":1,"s":"Source","d":"2016-01-11","v":8},
{"g":1,"s":"Source","d":"2016-01-18","v":8},
{"g":1,"s":"Source","d":"2016-01-24","v":8},
{"g":1,"s":"Source","d":"2016-01-31","v":8},
{"g":1,"s":"Source","d":"2016-02-03","v":8.8},
{"g":1,"s":"Source","d":"2016-02-09","v":27.8},
{"g":1,"s":"Source","d":"2016-02-16","v":26.6},
{"g":1,"s":"Source","d":"2016-02-23","v":26.6},
{"g":1,"s":"Source","d":"2016-02-29","v":28.1},
{"g":1,"s":"Source","d":"2016-03-06","v":24.1},
{"g":1,"s":"Source","d":"2016-03-13","v":26.3},
{"g":1,"s":"Source","d":"2016-03-19","v":26},
{"g":1,"s":"Source","d":"2016-03-26","v":22.7},
{"g":1,"s":"Source","d":"2016-04-02","v":26.3},
{"g":1,"s":"Source","d":"2016-04-13","v":26},
{"g":1,"s":"Source","d":"2016-04-26","v":26},
{"g":1,"s":"Source","d":"2016-05-01","v":26.6},
{"g":1,"s":"Source","d":"2016-05-09","v":26.3},
{"g":1,"s":"Source","d":"2016-05-19","v":19.7},
{"g":1,"s":"Source","d":"2016-05-31","v":21.2},
{"g":1,"s":"Source","d":"2016-06-06","v":26},
{"g":1,"s":"Source","d":"2016-06-13","v":26},
{"g":1,"s":"Source","d":"2016-06-20","v":26},
{"g":1,"s":"Source","d":"2016-06-26","v":24.9},
{"g":1,"s":"Source","d":"2016-07-03","v":26.6},
{"g":1,"s":"Source","d":"2016-07-17","v":24.9},
{"g":2,"s":"Source","d":"2016-11-15","v":12},
{"g":2,"s":"Source","d":"2016-11-21","v":12},
{"g":2,"s":"Source","d":"2016-11-28","v":12.4},
{"g":2,"s":"Source","d":"2016-12-04","v":13.5},
{"g":2,"s":"Source","d":"2016-12-09","v":13.9},
{"g":2,"s":"Source","d":"2016-12-13","v":12},
{"g":2,"s":"Source","d":"2016-12-19","v":24.1},
{"g":2,"s":"Source","d":"2016-12-27","v":13.6},
{"g":2,"s":"Source","d":"2017-01-02","v":7.3},
{"g":2,"s":"Source","d":"2017-01-10","v":5.6},
{"g":2,"s":"Source","d":"2017-01-15","v":9.5},
{"g":2,"s":"Source","d":"2017-01-23","v":14.6},
{"g":2,"s":"Source","d":"2017-02-01","v":12.4},
{"g":2,"s":"Source","d":"2017-02-06","v":36.5},
{"g":2,"s":"Source","d":"2017-02-11","v":36.5},
{"g":2,"s":"Source","d":"2017-02-15","v":36.5},
{"g":2,"s":"Source","d":"2017-02-19","v":36.5},
{"g":2,"s":"Source","d":"2017-02-24","v":36.5},
{"g":2,"s":"Source","d":"2017-02-28","v":36.5},
{"g":2,"s":"Source","d":"2017-03-02","v":36.5},
{"g":2,"s":"Source","d":"2017-03-06","v":36.5},
{"g":2,"s":"Source","d":"2017-03-13","v":36.5},
{"g":2,"s":"Source","d":"2017-03-17","v":24.9},
{"g":2,"s":"Source","d":"2017-03-24","v":24.9},
{"g":2,"s":"Source","d":"2017-04-04","v":24.9},
{"g":2,"s":"Source","d":"2017-04-10","v":25.1},
{"g":2,"s":"Source","d":"2017-04-17","v":24.9},
{"g":2,"s":"Source","d":"2017-04-23","v":23.7},
{"g":2,"s":"Source","d":"2017-04-30","v":24.9},
{"g":2,"s":"Source","d":"2017-05-07","v":24.9},
{"g":2,"s":"Source","d":"2017-05-13","v":25.6},
{"g":2,"s":"Source","d":"2017-05-22","v":22.7},
{"g":2,"s":"Source","d":"2017-05-28","v":24.9},
{"g":2,"s":"Source","d":"2017-06-04","v":24.9},
{"g":2,"s":"Source","d":"2017-06-18","v":24.1},
{"g":2,"s":"Source","d":"2017-07-02","v":24.5},
{"g":2,"s":"Source","d":"2017-07-08","v":25.1},
{"g":2,"s":"Source","d":"2017-07-15","v":24.9}
],
"E": [
{"g":1,"s":"BUB","d":"2016-11-28","v":26.7,"e":2},
{"g":1,"s":"BUB","d":"2016-12-06","v":24.7,"e":3},
{"g":1,"s":"BUB","d":"2016-12-12","v":19.3,"e":3},
{"g":1,"s":"BUB","d":"2016-12-19","v":15.9,"e":3},
{"g":1,"s":"BUB","d":"2016-12-26","v":13.2,"e":2},
{"g":1,"s":"BUB","d":"2017-01-03","v":15.5,"e":2},
{"g":1,"s":"BUB","d":"2017-01-10","v":15.5,"e":2},
{"g":1,"s":"BUB","d":"2017-01-16","v":17,"e":3},
{"g":1,"s":"BUB","d":"2017-01-24","v":13.2,"e":2},
{"g":1,"s":"BUB","d":"2017-01-29","v":12.5,"e":2},
{"g":1,"s":"BUB","d":"2017-02-07","v":12,"e":2},
{"g":1,"s":"BUB","d":"2017-02-14","v":10,"e":2},
{"g":1,"s":"BUB","d":"2017-02-21","v":10.5,"e":2},
{"g":1,"s":"BUB","d":"2017-02-28","v":11.5,"e":2},
{"g":1,"s":"BUB","d":"2017-03-06","v":12,"e":2},
{"g":1,"s":"BUB","d":"2017-03-13","v":12.8,"e":2},
{"g":1,"s":"BUB","d":"2017-03-19","v":14.6,"e":2},
{"g":1,"s":"BUB","d":"2017-03-26","v":15.9,"e":2},
{"g":1,"s":"BUB","d":"2017-04-02","v":18.6,"e":3},
{"g":1,"s":"BUB","d":"2017-04-09","v":17.7,"e":2},
{"g":1,"s":"BUB","d":"2017-04-23","v":18.3,"e":3},
{"g":1,"s":"BUB","d":"2017-04-30","v":18.6,"e":3},
{"g":1,"s":"BUB","d":"2017-05-07","v":16.3,"e":2},
{"g":1,"s":"BUB","d":"2017-05-14","v":24,"e":5},
{"g":1,"s":"BUB","d":"2017-05-21","v":24.9,"e":5},
{"g":1,"s":"BUB","d":"2017-05-28","v":26.3,"e":6},
{"g":1,"s":"BUB","d":"2017-06-04","v":26.7,"e":6},
{"g":1,"s":"BUB","d":"2017-06-11","v":27.6,"e":6},
{"g":1,"s":"BUB","d":"2017-06-17","v":24.7,"e":8},
{"g":1,"s":"BUB","d":"2017-07-02","v":27.6,"e":8},
{"g":1,"s":"BUB","d":"2017-07-15","v":32.7,"e":14},
{"g":1,"s":"BUB","d":"2017-07-23","v":31.4,"e":15},
{"g":1,"s":"BUB","d":"2017-07-30","v":31.7,"e":14},
{"g":1,"s":"BUB","d":"2017-08-06","v":29.8,"e":5},
{"g":1,"s":"BUB","d":"2017-08-13","v":29.4,"e":6},
{"g":1,"s":"PCD","d":"2016-11-28","v":26.7,"e":3},
{"g":1,"s":"PCD","d":"2016-12-06","v":20.6,"e":5},
{"g":1,"s":"PCD","d":"2016-12-12","v":22.6,"e":5},
{"g":1,"s":"PCD","d":"2016-12-19","v":28,"e":9},
{"g":1,"s":"PCD","d":"2016-12-26","v":24.9,"e":5},
{"g":1,"s":"PCD","d":"2017-01-03","v":24.9,"e":3},
{"g":1,"s":"PCD","d":"2017-01-10","v":22,"e":3.5},
{"g":1,"s":"PCD","d":"2017-01-16","v":21.3,"e":4},
{"g":1,"s":"PCD","d":"2017-01-24","v":24.4,"e":5},
{"g":1,"s":"PCD","d":"2017-01-29","v":24.4,"e":2.5},
{"g":1,"s":"PCD","d":"2017-02-07","v":24.7,"e":3.5},
{"g":1,"s":"PCD","d":"2017-02-14","v":24,"e":4},
{"g":1,"s":"PCD","d":"2017-02-21","v":22.6,"e":4},
{"g":1,"s":"PCD","d":"2017-02-28","v":22.6,"e":4},
{"g":1,"s":"PCD","d":"2017-03-06","v":22.2,"e":4},
{"g":1,"s":"PCD","d":"2017-03-13","v":20.9,"e":5},
{"g":1,"s":"PCD","d":"2017-03-19","v":21.3,"e":4},
{"g":1,"s":"PCD","d":"2017-03-26","v":22.6,"e":3},
{"g":1,"s":"PCD","d":"2017-04-02","v":23.3,"e":3},
{"g":1,"s":"PCD","d":"2017-04-09","v":19,"e":2},
{"g":1,"s":"PCD","d":"2017-04-23","v":24,"e":4},
{"g":1,"s":"PCD","d":"2017-04-30","v":25.3,"e":5},
{"g":1,"s":"PCD","d":"2017-05-07","v":31.7,"e":7},
{"g":1,"s":"PCD","d":"2017-05-14","v":34.1,"e":8},
{"g":1,"s":"PCD","d":"2017-05-21","v":33.4,"e":8},
{"g":1,"s":"PCD","d":"2017-05-28","v":36.1,"e":11},
{"g":1,"s":"PCD","d":"2017-06-04","v":38.8,"e":10},
{"g":1,"s":"PCD","d":"2017-06-11","v":50.9,"e":14},
{"g":1,"s":"PCD","d":"2017-06-17","v":31.7,"e":4},
{"g":1,"s":"PCD","d":"2017-07-02","v":49.6,"e":12},
{"g":1,"s":"PCD","d":"2017-07-15","v":47.6,"e":13},
{"g":1,"s":"PCD","d":"2017-07-23","v":50.5,"e":14},
{"g":1,"s":"PCD","d":"2017-07-30","v":49.2,"e":13},
{"g":1,"s":"PCD","d":"2017-08-06","v":37.5,"e":2},
{"g":1,"s":"PCD","d":"2017-08-13","v":39.2,"e":3},
{"g":1,"s":"Source","d":"2016-11-28","v":11.5},
{"g":1,"s":"Source","d":"2016-12-06","v":11.5},
{"g":1,"s":"Source","d":"2016-12-12","v":11.9},
{"g":1,"s":"Source","d":"2016-12-19","v":13.2},
{"g":1,"s":"Source","d":"2016-12-26","v":12.5},
{"g":1,"s":"Source","d":"2017-01-03","v":13.2},
{"g":1,"s":"Source","d":"2017-01-16","v":6.7},
{"g":1,"s":"Source","d":"2017-01-24","v":4.9},
{"g":1,"s":"Source","d":"2017-01-29","v":8.9},
{"g":1,"s":"Source","d":"2017-02-07","v":13.9},
{"g":1,"s":"Source","d":"2017-02-14","v":11.9},
{"g":1,"s":"Source","d":"2017-02-21","v":10.5},
{"g":1,"s":"Source","d":"2017-02-28","v":10.8},
{"g":1,"s":"Source","d":"2017-03-06","v":10.8},
{"g":1,"s":"Source","d":"2017-03-13","v":10.8},
{"g":1,"s":"Source","d":"2017-03-19","v":10.5},
{"g":1,"s":"Source","d":"2017-03-26","v":10.5},
{"g":1,"s":"Source","d":"2017-04-02","v":10.5},
{"g":1,"s":"Source","d":"2017-04-09","v":10.5},
{"g":1,"s":"Source","d":"2017-04-23","v":10.5},
{"g":1,"s":"Source","d":"2017-04-30","v":10.5},
{"g":1,"s":"Source","d":"2017-05-07","v":8.5},
{"g":1,"s":"Source","d":"2017-05-14","v":9.2},
{"g":1,"s":"Source","d":"2017-05-21","v":10.1},
{"g":1,"s":"Source","d":"2017-05-28","v":10.9},
{"g":1,"s":"Source","d":"2017-06-04","v":11.6},
{"g":1,"s":"Source","d":"2017-06-11","v":11.9},
{"g":1,"s":"Source","d":"2017-06-17","v":10.5},
{"g":1,"s":"Source","d":"2017-07-02","v":10.5},
{"g":1,"s":"Source","d":"2017-07-15","v":10.5},
{"g":1,"s":"Source","d":"2017-07-23","v":10.5},
{"g":1,"s":"Source","d":"2017-07-30","v":10.5}
]
},
"vconcat": [
{
"data": {"name": "A"},
"width": 508, "height": 320,
"encoding": {
"x": {"field": "d", "type": "temporal", "scale": {"type": "utc", "domain": ["2015-11-01", "2017-09-01"]}, "axis": {"title": null, "format": "%b", "tickCount": {"interval": "month", "step": 2}}},
"y": {"field": "v", "type": "quantitative", "scale": {"domain": [0, 140], "nice": false}, "axis": {"title": "Electrical conductivity, EC (dS m⁻¹)", "values": [0, 25, 50, 75, 100, 125]}}
},
"layer": [
{"transform": [{"filter": "datum.s !== 'Source'"}], "mark": {"type": "errorbar", "ticks": {"size": 9}, "color": "#111111", "thickness": 1.7}, "encoding": {"yError": {"field": "e"}}},
{"transform": [{"filter": "datum.s !== 'Source'"}], "mark": {"type": "line", "strokeWidth": 2.5}, "encoding": {"color": {"field": "s", "type": "nominal", "scale": {"domain": ["BUB", "BUB*", "PCD"], "range": ["#2E8CE0", "#A0A0A0", "#FA5A14"]}, "legend": null}, "detail": {"field": "g"}}},
{"transform": [{"filter": "datum.s === 'Source'"}], "mark": {"type": "point", "filled": true, "color": "#000000", "opacity": 1},
 "encoding": {
 "stroke": {"field": "s", "type": "nominal", "scale": {"domain": ["BUB", "BUB*", "PCD", "Source"], "range": ["#2B8DE3", "#A6A6A6", "#C0710C", "#000000"]}, "legend": {"title": "Aquabrine:", "columns": 3}},
 "shape": {"field": "s", "type": "nominal", "scale": {"domain": ["BUB", "BUB*", "PCD", "Source"], "range": ["stroke", "stroke", "stroke", "circle"]}},
 "size": {"field": "s", "type": "nominal", "scale": {"type": "ordinal", "domain": ["BUB", "BUB*", "PCD", "Source"], "range": [400, 400, 400, 30]}}
 }}
]
},
{
"data": {"name": "R"},
"width": 508, "height": 327,
"encoding": {
"x": {"field": "d", "type": "temporal", "scale": {"type": "utc", "domain": ["2015-11-01", "2017-09-01"]}, "axis": {"title": null, "format": "%b", "tickCount": {"interval": "month", "step": 2}}},
"y": {"field": "v", "type": "quantitative", "scale": {"domain": [0, 140], "nice": false}, "axis": {"title": "Electrical conductivity, EC (dS m⁻¹)", "values": [0, 25, 50, 75, 100, 125]}}
},
"layer": [
{"transform": [{"filter": "datum.s !== 'Source'"}], "mark": {"type": "errorbar", "ticks": {"size": 9}, "color": "#111111", "thickness": 1.7}, "encoding": {"yError": {"field": "e"}}},
{"transform": [{"filter": "datum.s !== 'Source'"}], "mark": {"type": "line", "strokeWidth": 2.5}, "encoding": {"color": {"field": "s", "type": "nominal", "scale": {"domain": ["BUB", "PCD"], "range": ["#2E8CE0", "#FA5A14"]}, "legend": null}, "detail": {"field": "g"}}},
{"transform": [{"filter": "datum.s === 'Source'"}], "mark": {"type": "point", "filled": true, "color": "#000000", "opacity": 1},
 "encoding": {
 "stroke": {"field": "s", "type": "nominal", "scale": {"domain": ["BUB", "PCD", "Source"], "range": ["#2B8DE3", "#C0710C", "#000000"]}, "legend": {"title": "Reverse Osmosis:", "columns": 2}},
 "shape": {"field": "s", "type": "nominal", "scale": {"domain": ["BUB", "PCD", "Source"], "range": ["stroke", "stroke", "circle"]}},
 "size": {"field": "s", "type": "nominal", "scale": {"type": "ordinal", "domain": ["BUB", "PCD", "Source"], "range": [400, 400, 30]}}
 }}
]
},
{
"data": {"name": "G"},
"width": 508, "height": 319,
"encoding": {
"x": {"field": "d", "type": "temporal", "scale": {"type": "utc", "domain": ["2015-11-01", "2017-09-01"]}, "axis": {"title": null, "format": "%b", "tickCount": {"interval": "month", "step": 2}}},
"y": {"field": "v", "type": "quantitative", "scale": {"domain": [0, 140], "nice": false}, "axis": {"title": "Electrical conductivity, EC (dS m⁻¹)", "values": [0, 25, 50, 75, 100, 125]}}
},
"layer": [
{"transform": [{"filter": "datum.s !== 'Source'"}], "mark": {"type": "errorbar", "ticks": {"size": 9}, "color": "#111111", "thickness": 1.7}, "encoding": {"yError": {"field": "e"}}},
{"transform": [{"filter": "datum.s !== 'Source'"}], "mark": {"type": "line", "strokeWidth": 2.5}, "encoding": {"color": {"field": "s", "type": "nominal", "scale": {"domain": ["BUB", "PCD"], "range": ["#2E8CE0", "#FA5A14"]}, "legend": null}, "detail": {"field": "g"}}},
{"transform": [{"filter": "datum.s === 'Source'"}], "mark": {"type": "point", "filled": true, "color": "#000000", "opacity": 1},
 "encoding": {
 "stroke": {"field": "s", "type": "nominal", "scale": {"domain": ["BUB", "PCD", "Source"], "range": ["#2B8DE3", "#C0710C", "#000000"]}, "legend": {"title": "Groundwater:", "columns": 2}},
 "shape": {"field": "s", "type": "nominal", "scale": {"domain": ["BUB", "PCD", "Source"], "range": ["stroke", "stroke", "circle"]}},
 "size": {"field": "s", "type": "nominal", "scale": {"type": "ordinal", "domain": ["BUB", "PCD", "Source"], "range": [400, 400, 30]}}
 }}
]
},
{
"data": {"name": "E"},
"width": 510, "height": 350,
"encoding": {
"x": {"field": "d", "type": "temporal", "scale": {"type": "utc", "domain": ["2016-11-01", "2017-09-12"]}, "axis": {"title": null, "format": "%b", "tickCount": {"interval": "month", "step": 1}}},
"y": {"field": "v", "type": "quantitative", "scale": {"domain": [0, 140], "nice": false}, "axis": {"title": "Electrical conductivity, EC (dS m⁻¹)", "values": [0, 25, 50, 75, 100, 125]}}
},
"layer": [
{"transform": [{"filter": "datum.s !== 'Source'"}], "mark": {"type": "errorbar", "ticks": {"size": 9}, "color": "#111111", "thickness": 1.7}, "encoding": {"yError": {"field": "e"}}},
{"transform": [{"filter": "datum.s !== 'Source'"}], "mark": {"type": "line", "strokeWidth": 2.5}, "encoding": {"color": {"field": "s", "type": "nominal", "scale": {"domain": ["BUB", "PCD"], "range": ["#1F45C2", "#FA5A14"]}, "legend": null}, "detail": {"field": "g"}}},
{"transform": [{"filter": "datum.s !== 'Source'"}], "mark": {"type": "point", "shape": "square", "filled": true, "color": "#1a1a1a", "size": 22, "opacity": 1}},
{"transform": [{"filter": "datum.s === 'Source'"}], "mark": {"type": "point", "filled": true, "color": "#000000", "opacity": 1},
 "encoding": {
 "stroke": {"field": "s", "type": "nominal", "scale": {"domain": ["BUB", "PCD", "Source"], "range": ["#2B8DE3", "#C0710C", "#000000"]}, "legend": {"title": "EC10:", "columns": 2}},
 "shape": {"field": "s", "type": "nominal", "scale": {"domain": ["BUB", "PCD", "Source"], "range": ["stroke", "stroke", "circle"]}},
 "size": {"field": "s", "type": "nominal", "scale": {"type": "ordinal", "domain": ["BUB", "PCD", "Source"], "range": [400, 400, 30]}}
 }}
]
}
],
"resolve": {"scale": {"color": "independent", "stroke": "independent", "shape": "independent", "size": "independent", "x": "independent", "y": "independent"}, "legend": {"stroke": "independent", "shape": "independent", "size": "independent"}},
"config": {
"font": "Lato",
"view": {"stroke": "#595959", "strokeWidth": 1.5},
"axis": {"labelFont": "Lato", "labelFontSize": 14, "labelColor": "#262626", "titleFont": "Lato", "titleFontSize": 14.5, "titleFontWeight": "normal", "titleColor": "#262626", "gridColor": "#d9d9d9", "gridWidth": 1.5, "ticks": false, "domainColor": "#595959", "domainWidth": 1.5},
"axisX": {"labelPadding": 11, "labelFlush": false, "labelOverlap": false},
"axisY": {"labelPadding": 14, "titlePadding": 8, "domainColor": "#a6a6a6"},
"legend": {"orient": "top-left", "offset": 2, "padding": 14, "fillColor": "white", "direction": "horizontal", "titleOrient": "left", "titleAnchor": "start", "titleBaseline": "line-top", "titleLineHeight": 27, "titleFont": "Lato", "titleFontWeight": "bold", "titleFontSize": 15, "titleColor": "#000000", "labelFont": "Lato", "labelFontSize": 15, "labelColor": "#000000", "labelAlign": "right", "labelOffset": -27, "columnPadding": 10, "rowPadding": 8, "symbolStrokeWidth": 2.5, "titlePadding": 56}
}
}
